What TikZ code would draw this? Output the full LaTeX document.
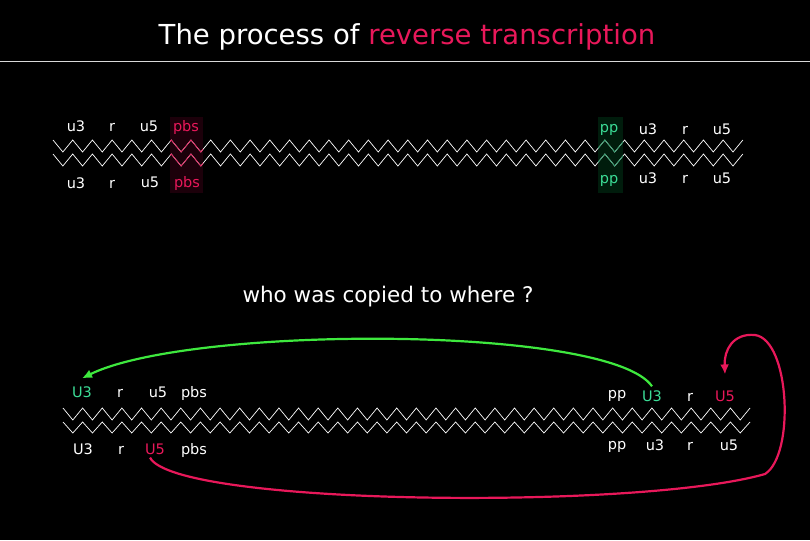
\documentclass[tikz,border=0pt]{standalone}
\usepackage{fontspec}
\setmainfont{DejaVu Sans}
\usetikzlibrary{arrows.meta}
\definecolor{rtred}{HTML}{E8185A}
\definecolor{rtgreen}{HTML}{3BDC96}
\definecolor{argreen}{HTML}{3EE83E}
\definecolor{tintred}{HTML}{1C000A}
\definecolor{tintgreen}{HTML}{001C0C}
\tikzset{
  lbl/.style={text=white, font=\fontsize{14.5}{16}\selectfont, inner sep=1pt},
  zz/.style={line width=0.7pt},
  arr/.style={line width=2.2pt, -{Latex[length=10pt,width=9pt]}},
}
% #1 colour, #2 x0, #3 y top, #4 periods, #5 period, #6 amplitude
\newcommand{\zigline}[6]{%
  \draw[zz,#1] (#2,#3) \foreach \i in {1,...,#4} {-- ++(#5/2,#6) -- ++(#5/2,-#6)};}
\begin{document}
\begin{tikzpicture}[x=1pt,y=-1pt]
\fill[black] (0,0) rectangle (810,540);
\useasboundingbox (0,0) rectangle (810,540);

% title
\node[text=white, font=\fontsize{27.5}{32}\selectfont] (title) at (407,37)
  {The process of \textcolor{rtred}{reverse transcription}};
\draw[white!85!black, line width=0.8pt] (0,61) coordinate (hl) -- (810,61) coordinate (hr);

% ---------- top duplex ----------
\fill[tintred] (170,117) rectangle (203,193);
\fill[tintgreen] (598,117) rectangle (623,193);
\zigline{white}{53}{140}{35}{19.71}{12}
\zigline{white}{53}{154}{35}{19.71}{12}
\begin{scope}
  \clip (170,130) rectangle (203,170);
  \zigline{rtred}{53}{140}{35}{19.71}{12}
  \zigline{rtred}{53}{154}{35}{19.71}{12}
\end{scope}
\begin{scope}
  \clip (598,130) rectangle (623,170);
  \zigline{rtgreen!70!black}{53}{140}{35}{19.71}{12}
  \zigline{rtgreen!70!black}{53}{154}{35}{19.71}{12}
\end{scope}

\node[lbl] (a1) at (76,126) {u3};
\node[lbl] (a2) at (112,127) {r};
\node[lbl] (a3) at (149,126) {u5};
\node[lbl, text=rtred] (a4) at (186,127) {pbs};
\node[lbl] (b1) at (76,183) {u3};
\node[lbl] (b2) at (112,184) {r};
\node[lbl] (b3) at (150,182) {u5};
\node[lbl, text=rtred] (b4) at (187,183) {pbs};

\node[lbl, text=rtgreen] (c1) at (609,130) {pp};
\node[lbl] (c2) at (648,129) {u3};
\node[lbl] (c3) at (685,130) {r};
\node[lbl] (c4) at (722,129) {u5};
\node[lbl, text=rtgreen] (d1) at (609,181) {pp};
\node[lbl] (d2) at (648,178) {u3};
\node[lbl] (d3) at (685,179) {r};
\node[lbl] (d4) at (722,178) {u5};

% question
\node[text=white, font=\fontsize{21.5}{25}\selectfont] (q) at (388,297) {who was copied to where ?};

% ---------- bottom duplex ----------
\zigline{white}{63}{408}{35}{19.63}{12}
\zigline{white}{63}{422}{35}{19.63}{11}

\node[lbl, text=rtgreen] (e1) at (82,392) {U3};
\node[lbl] (e2) at (120,393) {r};
\node[lbl] (e3) at (158,392) {u5};
\node[lbl] (e4) at (194,393) {pbs};
\node[lbl] (f1) at (83,449) {U3};
\node[lbl] (f2) at (121,450) {r};
\node[lbl, text=rtred] (f3) at (155,449) {U5};
\node[lbl] (f4) at (194,450) {pbs};

\node[lbl] (g1) at (617,396) {pp};
\node[lbl, text=rtgreen] (g2) at (652,396) {U3};
\node[lbl] (g3) at (690,397) {r};
\node[lbl, text=rtred] (g4) at (725,396) {U5};
\node[lbl] (h1) at (617,447) {pp};
\node[lbl] (h2) at (655,445) {u3};
\node[lbl] (h3) at (690,446) {r};
\node[lbl] (h4) at (729,445) {u5};

% arrows
\draw[arr, argreen] ([yshift=3pt]g2.north) .. controls (610,325) and (190,325) .. ([yshift=7pt]e1.north);
\draw[arr, rtred] ([xshift=-5pt,yshift=-2pt]f3.south) .. controls (175,506) and (640,510) .. (765,474)
  .. controls (795,455) and (790,340) .. (755,335)
  .. controls (733,333) and (724,350) .. ([yshift=15pt]g4.north);
\end{tikzpicture}
\end{document}
